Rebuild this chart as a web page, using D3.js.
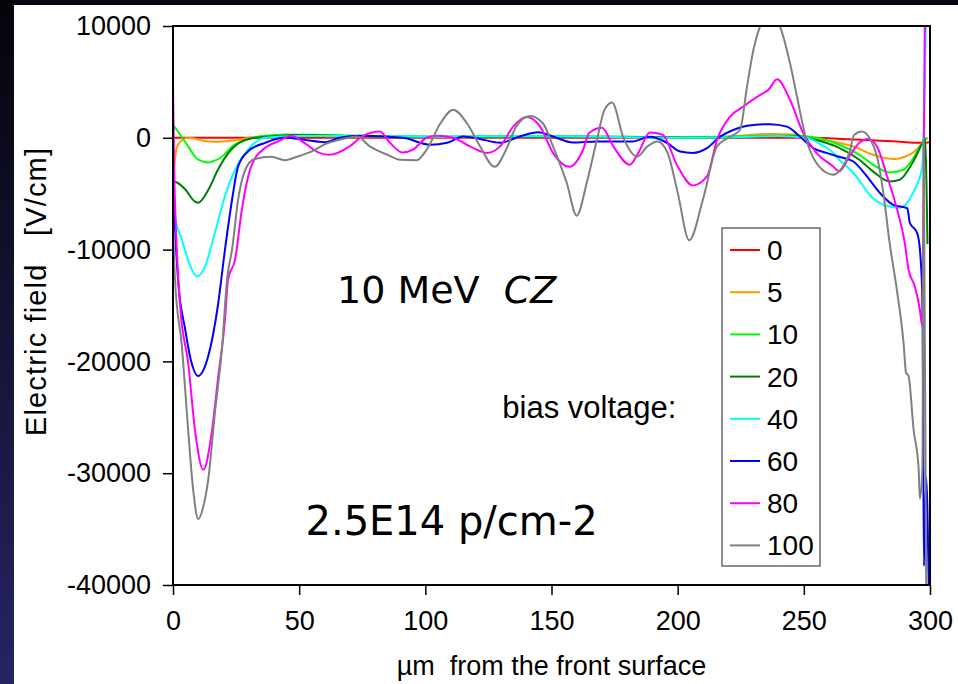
<!DOCTYPE html>
<html>
<head>
<meta charset="utf-8">
<script src="https://cdn.jsdelivr.net/npm/d3@7"></script>
<style>
  body { margin: 0; background: #fff; }
  svg { display: block; font-family: "Liberation Sans", Arial, sans-serif; }
  .tick text { font-size: 27px; fill: #000; }
  .tick line { stroke: #000; stroke-width: 1.5; }
  .line { fill: none; stroke-width: 2; stroke-linejoin: round; }
</style>
</head>
<body>
<svg class="chart" width="958" height="684"></svg>
<script>
// bias voltages (legend) and their colours
const biasLabels = ["0", "5", "10", "20", "40", "60", "80", "100"];
const biasColors = ["#ff0000", "#ff9900", "#00ff00", "#008000", "#00ffff", "#0000ff", "#ff00ff", "#808080"];

const xTicks = [0, 50, 100, 150, 200, 250, 300];
const yTicks = [10000, 0, -10000, -20000, -30000, -40000];

// [depth um, field V/cm]
const v0 = [[0,0],[100,0],[200,0],[255,0],[265,-100],[275,-200],[285,-300],[297,-450],[300,-400]];
const v5 = [[0,-3500],[0.5,-2400],[1.5,-900],[3,-300],[6,0],[9,-100],[13,-300],[18,-350],[24,-250],[30,0],[38,150],[50,200],[70,100],[100,50],[130,50],[160,100],[200,0],[220,100],[237,350],[246,300],[252,0],[258,-200],[264,-450],[270,-800],[276,-1400],[282,-1800],[286,-1900],[290,-1700],[294,-1200],[297,-450],[299,0]];
const v10 = [[0,1160],[2,560],[6,-770],[10,-1960],[14,-2200],[17,-2000],[19.5,-1670],[23.4,-770],[29,-170],[35,150],[45,300],[60,250],[80,150],[110,100],[140,150],[170,100],[200,50],[230,150],[245,200],[255,0],[264,-620],[272,-1520],[277.4,-2400],[284,-3100],[289.4,-2860],[293,-1960],[297,-450],[299,0]];
const v20 = [[0,-6500],[0.3,-3900],[1.6,-4000],[4.8,-4600],[8.7,-5700],[10,-5800],[14,-4650],[17.8,-2850],[23,-1070],[30,-100],[40,150],[50,250],[60,200],[90,100],[120,100],[150,100],[180,100],[210,0],[230,100],[245,150],[255,-200],[264,-900],[272,-1960],[277.4,-3000],[284,-3900],[288,-3750],[293,-2260],[297,-450],[298,0],[299,-9500]];
const v40 = [[0,-2500],[0.8,-7000],[3.5,-9100],[7.5,-11800],[9.5,-12400],[12.7,-11500],[16.6,-8500],[20.6,-5200],[24.6,-2860],[29.7,-1070],[36.5,0],[50,150],[80,150],[110,100],[140,150],[170,100],[200,0],[220,50],[240,150],[251,0],[256,-500],[261.6,-1350],[264,-1960],[269.5,-3100],[277.4,-5400],[283,-6100],[288,-6250],[293.3,-4900],[297,-2560],[298.5,12000]];
const v60 = [[0,-4000],[1,-9000],[2,-12700],[4.8,-17100],[7,-19800],[10,-21300],[12,-20800],[14,-19500],[17.8,-15000],[20.6,-10000],[23.4,-5540],[25.8,-2560],[29.7,-1220],[36.5,-450],[44,0],[52,-170],[60,-400],[66,0],[74,180],[91,0],[102,-620],[108.6,-450],[115,120],[121.7,-100],[129.6,-450],[137.5,120],[144.7,500],[150.6,120],[158.5,-420],[168,-330],[182,-330],[189,100],[195.8,-450],[201,-1220],[206,-1350],[211.6,-920],[216.8,100],[222,700],[227.5,1070],[236.6,1220],[243.3,1000],[248.5,100],[253.7,-920],[259,-1350],[264,-1700],[269.5,-2100],[275,-3450],[280,-4900],[285.4,-6000],[291,-6300],[292,-7600],[294.9,-8500],[296,-10000],[297,-14500],[297.3,-25400],[297.6,-38300],[298.5,-30400],[299.5,-40000]];
const v80 = [[0,4500],[0.5,-3000],[1.5,-10000],[3,-15500],[6,-20100],[8.7,-26100],[12,-29700],[15.5,-26100],[17.8,-21600],[20.6,-16250],[21.8,-12700],[24.6,-10900],[27.3,-6400],[31,-2560],[36.5,-900],[41.6,-330],[47,180],[52,-450],[58,-1350],[62,-1520],[70,-770],[75,120],[82,560],[86,-450],[91,-1310],[95,-1070],[100.5,0],[104.6,180],[111,0],[117.7,-770],[124.5,-1350],[129.6,-770],[134.8,1000],[140,1870],[145.5,1000],[150.6,-1350],[157,-2600],[162.5,-1070],[165,450],[170,900],[174.5,-770],[181,-2400],[184.4,-1350],[189,480],[194,270],[200,-2560],[206,-4260],[211.6,-3450],[215.6,-180],[220.8,1900],[226,2800],[232.7,3840],[236,4300],[239.4,5240],[244.5,3400],[249.7,450],[255,-1350],[261.6,-2560],[264,-3000],[268,-1670],[272,-450],[275.5,-100],[279,-770],[283,-3450],[287,-6430],[290,-9400],[291.5,-11800],[294,-13300],[296,-15400],[297,-16900],[298,12000]];
const v100 = [[0,-8000],[0.8,-12700],[3.5,-18600],[6,-26100],[8,-31500],[10,-34100],[12,-33000],[14,-30500],[16.6,-24600],[19.5,-18600],[21.4,-12700],[23.4,-10000],[25.8,-5540],[29.7,-2400],[32.5,-1900],[39,-1700],[44.4,-2000],[49.5,-1670],[55,-1220],[60,-600],[66,-180],[73,120],[78,-770],[85,-1520],[90,-1960],[96.6,-2000],[100.5,-1070],[106,1300],[111,2500],[116.5,1300],[121.7,-770],[127.5,-2600],[132,-1070],[136,1000],[141.5,1960],[146.6,1300],[150.6,-770],[156,-4000],[160,-6970],[164,-4000],[168,-180],[171,2500],[174,3150],[178.5,0],[184,-1670],[188,-770],[192,-330],[196,-1340],[200,-4900],[204.6,-9170],[210,-5540],[215.6,-770],[220.8,100],[224.7,700],[227.5,4600],[230,7860],[233,10200],[236.5,11500],[240,10300],[244.5,6700],[247,4000],[251,-180],[256,-2560],[261.6,-3300],[264,-3000],[268,-1350],[270,270],[273,560],[276,0],[279,-1670],[281.5,-4900],[284,-9400],[287,-13800],[289.5,-18300],[290.5,-21000],[291.5,-21300],[293.5,-26100],[295.5,-29600],[296,-32300],[297,-29400],[297.5,0],[298.5,-40000]];

const series = [v0, v5, v10, v20, v40, v60, v80, v100];

const margin = { top: 26, right: 28, bottom: 99, left: 173 };
const width = 958 - margin.left - margin.right;
const height = 684 - margin.top - margin.bottom;

const root = d3.select("svg.chart");

// slide background: dark strip at the top and on the left
const grad = root.append("defs").append("linearGradient")
  .attr("id", "side").attr("x1", 0).attr("y1", 0).attr("x2", 0).attr("y2", 1);
grad.append("stop").attr("offset", "0%").attr("stop-color", "#04040a");
grad.append("stop").attr("offset", "100%").attr("stop-color", "#262463");
root.append("rect").attr("width", 958).attr("height", 5).attr("fill", "#06060e");
root.append("rect").attr("width", 14).attr("height", 684).attr("fill", "url(#side)");

root.select("defs").append("clipPath").attr("id", "plot")
  .append("rect").attr("width", width).attr("height", height);

const svg = root.append("g")
  .attr("transform", "translate(" + margin.left + "," + margin.top + ")");

const x = d3.scaleLinear().domain([0, 300]).range([0, width]);
const y = d3.scaleLinear().domain([-40000, 10000]).range([height, 0]);

svg.append("g")
  .attr("class", "y-axis")
  .call(d3.axisLeft(y).tickValues(yTicks).tickSize(10).tickPadding(12).tickFormat(d => String(d)))
  .call(g => g.select(".domain").remove());

svg.append("g")
  .attr("class", "x-axis")
  .attr("transform", "translate(0," + height + ")")
  .call(d3.axisBottom(x).tickValues(xTicks).tickSize(10).tickPadding(16).tickFormat(d => String(d)))
  .call(g => g.select(".domain").remove());

const line = d3.line()
  .x(d => x(d[0]))
  .y(d => y(d[1]))
  .curve(d3.curveMonotoneX);

const lines = svg.append("g").attr("clip-path", "url(#plot)");
series.forEach((s, i) => {
  lines.append("path")
    .datum(s)
    .attr("class", "line")
    .attr("stroke", biasColors[i])
    .attr("d", line);
});

svg.append("rect")
  .attr("width", width)
  .attr("height", height)
  .attr("fill", "none")
  .attr("stroke", "#000")
  .attr("stroke-width", 2);

// axis titles
svg.append("text")
  .attr("transform", "rotate(-90)")
  .attr("x", -(292 - margin.top))
  .attr("y", 46 - margin.left)
  .attr("textLength", 288)
  .style("text-anchor", "middle")
  .style("font-size", "29px")
  .style("white-space", "pre")
  .text("Electric field   [V/cm]");

svg.append("text")
  .attr("x", width / 2)
  .attr("y", 675 - margin.top)
  .style("text-anchor", "middle")
  .style("font-size", "27px")
  .style("white-space", "pre")
  .text("\u00b5m  from the front surface");

// annotations
const note = svg.append("text")
  .attr("x", x(65))
  .attr("y", 303 - margin.top)
  .style("font-family", "'Comic Sans MS', 'DejaVu Sans', sans-serif")
  .style("font-size", "38px")
  .style("white-space", "pre");
note.append("tspan").text("10 MeV  ");
note.append("tspan").style("font-style", "italic").text("CZ");

svg.append("text")
  .attr("x", x(52.5))
  .attr("y", 535 - margin.top)
  .style("font-family", "'Comic Sans MS', 'DejaVu Sans', sans-serif")
  .style("font-size", "40px")
  .text("2.5E14 p/cm-2");

svg.append("text")
  .attr("x", x(130.5))
  .attr("y", 418 - margin.top)
  .style("font-size", "31px")
  .text("bias voltage:");

// legend
const legend = svg.append("g")
  .attr("transform", "translate(" + (722 - margin.left) + "," + (228 - margin.top) + ")");

legend.append("rect")
  .attr("width", 98)
  .attr("height", 338)
  .attr("fill", "#fff")
  .attr("stroke", "#444")
  .attr("stroke-width", 1.2);

biasLabels.forEach((b, i) => {
  const item = legend.append("g")
    .attr("transform", "translate(0," + (22 + i * 42.2) + ")");
  item.append("line")
    .attr("x1", 8).attr("x2", 38)
    .attr("stroke", biasColors[i])
    .attr("stroke-width", 2);
  item.append("text")
    .attr("x", 45)
    .attr("dy", "0.36em")
    .style("font-size", "28px")
    .text(b);
});
</script>
</body>
</html>
